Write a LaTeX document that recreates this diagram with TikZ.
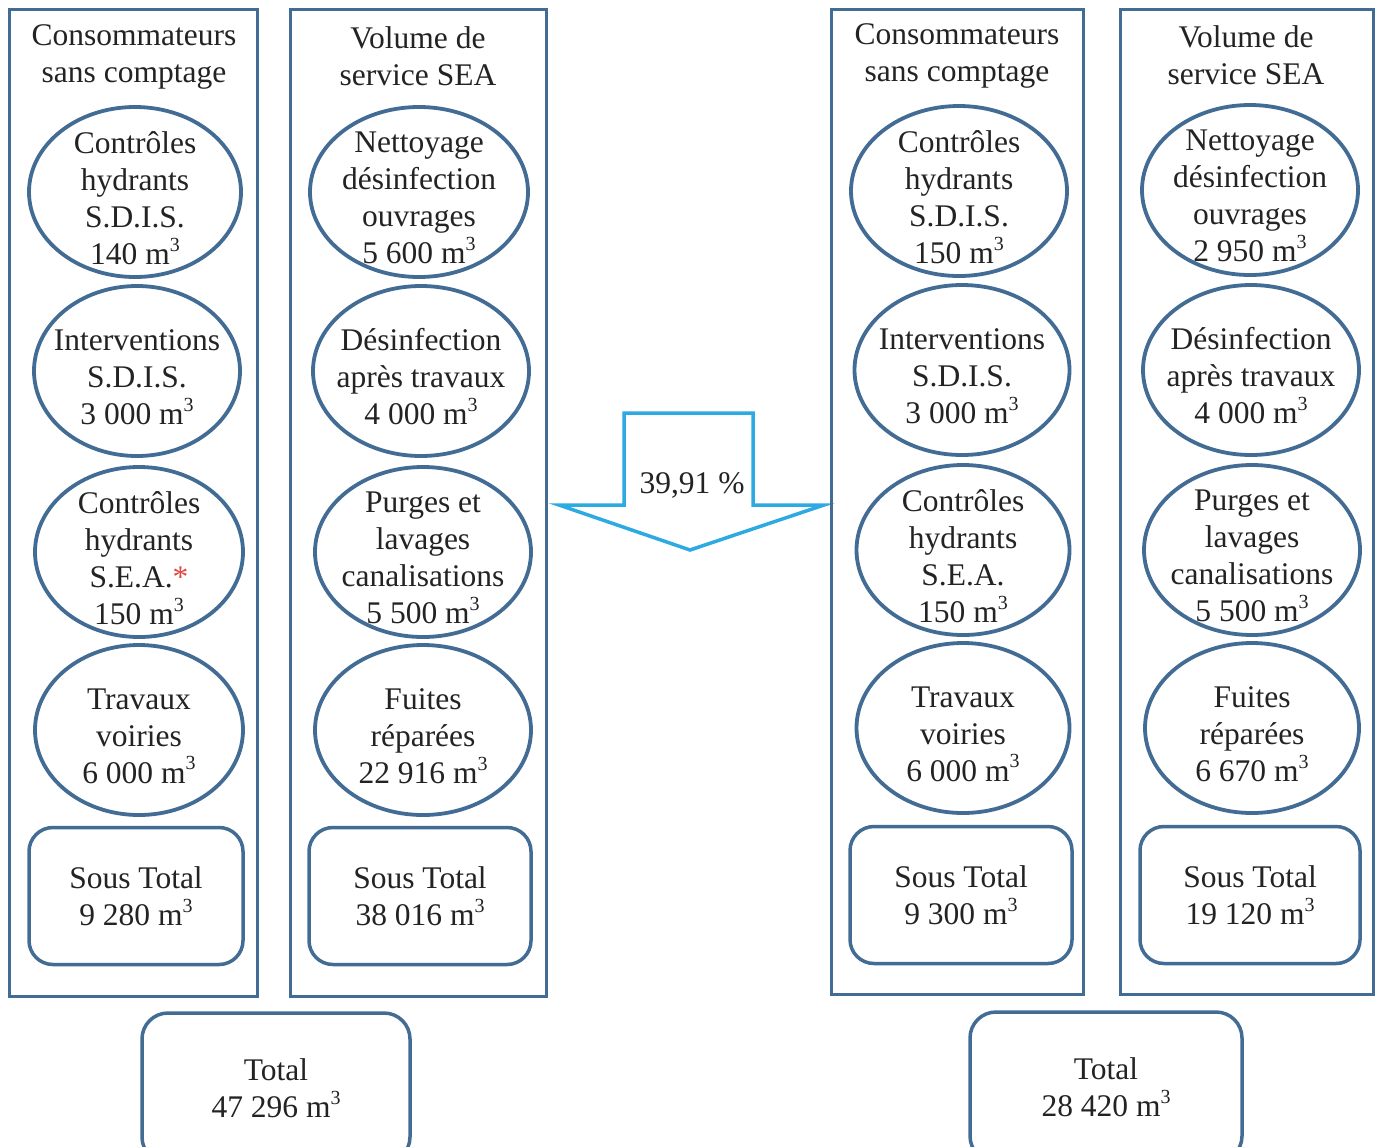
\documentclass[tikz,border=0pt]{standalone}
\usepackage{fontspec}
\setmainfont{Liberation Serif}
\newfontfamily\labelfont{Liberation Serif}
\usetikzlibrary{shapes.geometric}
\definecolor{frame}{RGB}{66,108,148}
\definecolor{arrowblue}{RGB}{45,170,225}
\definecolor{ink}{RGB}{35,35,35}
\definecolor{star}{RGB}{225,70,60}
% cubic metres with a small raised exponent
\newcommand{\mcube}{m\raisebox{0.42em}{\fontsize{20}{20}\selectfont 3}}
\begin{document}
\begin{tikzpicture}[x=1pt,y=-1pt,
  every node/.style={text=ink, font=\labelfont\fontsize{31.5}{37}\selectfont, align=center, inner sep=0pt},
  colbox/.style={draw=frame, line width=3pt, rectangle},
  bubble/.style={draw=frame, line width=3.8pt, ellipse, minimum width=212pt, minimum height=170pt},
  btext/.style={yshift=-6pt},
  subbox/.style={draw=frame, line width=3.5pt, rectangle, rounded corners=24pt, minimum width=218pt, minimum height=137pt},
  totbox/.style={draw=frame, line width=3.5pt, rectangle, rounded corners=26pt, minimum width=268pt, minimum height=150pt},
  header/.style={}]
\clip (0,0) rectangle (1380,1146);
\fill[white] (0,0) rectangle (1380,1146);

% ---------- left pair of columns ----------
\node[colbox, minimum width=248pt, minimum height=987pt] (c1) at (133,502.5) {};
\node[colbox, minimum width=256pt, minimum height=987pt] (c2) at (418,502.5) {};
\node[header] (h1) at (134,57) {Consommateurs\\sans comptage};
\node[header] (h2) at (418,56) {Volume de\\service SEA};

\node[bubble] (a1) at (135,192) {};
\node[btext] (a1t) at (a1.center) {Contrôles\\hydrants\\S.D.I.S.\\140 \mcube};
\node[bubble, minimum width=206pt] (a2) at (137,371) {};
\node[btext] (a2t) at (a2.center) {Interventions\\S.D.I.S.\\3 000 \mcube};
\node[bubble, minimum width=208pt] (a3) at (139,552) {};
\node[btext] (a3t) at (a3.center) {Contrôles\\hydrants\\S.E.A.\textcolor{star}{*}\\150 \mcube};
\node[bubble, minimum width=208pt] (a4) at (139,730) {};
\node[btext] (a4t) at (a4.center) {Travaux\\voiries\\6 000 \mcube};
\node[subbox, minimum width=214pt] (as) at (136,896) {Sous Total\\9 280 \mcube};

\node[bubble, minimum width=218pt] (b1) at (419,192) {};
\node[btext] (b1t) at (b1.center) {Nettoyage\\désinfection\\ouvrages\\5 600 \mcube};
\node[bubble, minimum width=216pt] (b2) at (421,371) {};
\node[btext] (b2t) at (b2.center) {Désinfection\\après travaux\\4 000 \mcube};
\node[bubble, minimum width=216pt] (b3) at (423,552) {};
\node[btext] (b3t) at (b3.center) {Purges et\\lavages\\canalisations\\5 500 \mcube};
\node[bubble, minimum width=216pt] (b4) at (423,730) {};
\node[btext] (b4t) at (b4.center) {Fuites\\réparées\\22 916 \mcube};
\node[subbox, minimum width=222pt] (bs) at (420,896) {Sous Total\\38 016 \mcube};

\node[totbox] (t1) at (276,1088) {Total\\47 296 \mcube};

% ---------- decrease arrow ----------
\draw[arrowblue, line width=3.5pt, line join=miter]
  (624,413) -- (753,413) -- (753,505) -- (824,505) -- (690,550)
  -- (559,505) -- (624,505) -- cycle;
\node (pct) at (692,485) {39,91 \%};

% ---------- right pair of columns ----------
\node[colbox, minimum width=252pt, minimum height=985pt] (c3) at (957,502) {};
\node[colbox, minimum width=253pt, minimum height=985pt] (c4) at (1246.5,502) {};
\node[header] (h3) at (957,56) {Consommateurs\\sans comptage};
\node[header] (h4) at (1246,55) {Volume de\\service SEA};

\node[bubble, minimum width=216pt] (d1) at (959,191) {};
\node[btext] (d1t) at (d1.center) {Contrôles\\hydrants\\S.D.I.S.\\150 \mcube};
\node[bubble, minimum width=215pt] (d2) at (962,370) {};
\node[btext] (d2t) at (d2.center) {Interventions\\S.D.I.S.\\3 000 \mcube};
\node[bubble, minimum width=213pt] (d3) at (963,550) {};
\node[btext] (d3t) at (d3.center) {Contrôles\\hydrants\\S.E.A.\\150 \mcube};
\node[bubble, minimum width=213pt] (d4) at (963,728) {};
\node[btext] (d4t) at (d4.center) {Travaux\\voiries\\6 000 \mcube};
\node[subbox, minimum width=222pt] (ds) at (961,895) {Sous Total\\9 300 \mcube};

\node[bubble, minimum width=216pt] (e1) at (1250,190) {};
\node[btext] (e1t) at (e1.center) {Nettoyage\\désinfection\\ouvrages\\2 950 \mcube};
\node[bubble, minimum width=216pt] (e2) at (1251,370) {};
\node[btext] (e2t) at (e2.center) {Désinfection\\après travaux\\4 000 \mcube};
\node[bubble, minimum width=216pt] (e3) at (1252,550) {};
\node[btext] (e3t) at (e3.center) {Purges et\\lavages\\canalisations\\5 500 \mcube};
\node[bubble, minimum width=214pt] (e4) at (1252,728) {};
\node[btext] (e4t) at (e4.center) {Fuites\\réparées\\6 670 \mcube};
\node[subbox, minimum width=220pt] (es) at (1250,895) {Sous Total\\19 120 \mcube};

\node[totbox, minimum width=272pt] (t2) at (1106,1087) {Total\\28 420 \mcube};
\end{tikzpicture}
\end{document}
